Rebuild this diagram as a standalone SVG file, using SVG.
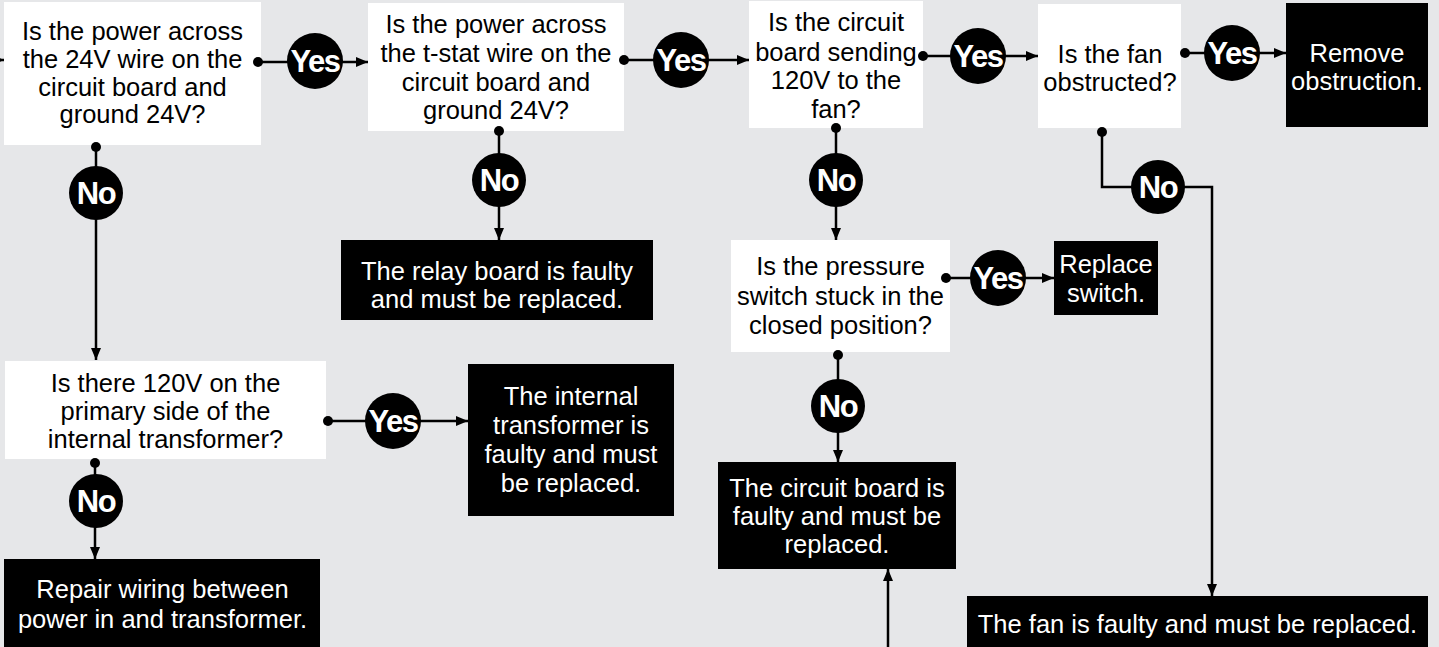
<svg xmlns="http://www.w3.org/2000/svg" width="1439" height="647" viewBox="0 0 1439 647">
<defs>
<marker id="ah" viewBox="0 0 12 10" refX="12" refY="5" markerWidth="12" markerHeight="10" markerUnits="userSpaceOnUse" orient="auto">
<path d="M0,0 L12,5 L0,10 Z" fill="#000"/>
</marker>
<marker id="dot" viewBox="0 0 10 10" refX="5" refY="5" markerWidth="10" markerHeight="10" markerUnits="userSpaceOnUse">
<circle cx="5" cy="5" r="5" fill="#000"/>
</marker>
</defs>
<style>
.q{fill:#fff}
.a{fill:#000}
.t{font-family:"Liberation Sans",Arial,Helvetica,sans-serif;font-size:25.5px;text-anchor:middle}
.qt{fill:#000}
.at{fill:#fff}
.c{fill:#000}
.ct{font-family:"Liberation Sans",Arial,Helvetica,sans-serif;font-size:31px;font-weight:bold;fill:#fff;text-anchor:middle;letter-spacing:-1.5px}
.l{fill:none;stroke:#000;stroke-width:2.5}
</style>
<rect x="0" y="0" width="1439" height="647" fill="#e6e7e9"/>

<g id="q-24v">
<rect class="q" x="4" y="2" width="257" height="143"/>
<text class="t qt"><tspan x="132.5" y="40">Is the power across</tspan><tspan x="132.5" y="68">the 24V wire on the</tspan><tspan x="132.5" y="96">circuit board and</tspan><tspan x="132.5" y="123">ground 24V?</tspan></text>
</g>
<g id="q-tstat">
<rect class="q" x="368" y="3" width="256" height="128"/>
<text class="t qt"><tspan x="496" y="33">Is the power across</tspan><tspan x="496" y="62">the t-stat wire on the</tspan><tspan x="496" y="91">circuit board and</tspan><tspan x="496" y="119">ground 24V?</tspan></text>
</g>
<g id="q-board">
<rect class="q" x="749" y="1" width="174" height="127"/>
<text class="t qt"><tspan x="836" y="31">Is the circuit</tspan><tspan x="836" y="61">board sending</tspan><tspan x="836" y="89">120V to the</tspan><tspan x="836" y="118">fan?</tspan></text>
</g>
<g id="q-fan">
<rect class="q" x="1038" y="4" width="143" height="124"/>
<text class="t qt"><tspan x="1110" y="63">Is the fan</tspan><tspan x="1110" y="91">obstructed?</tspan></text>
</g>
<g id="a-obstruction">
<rect class="a" x="1286" y="3" width="142" height="124"/>
<text class="t at"><tspan x="1357" y="62">Remove</tspan><tspan x="1357" y="90">obstruction.</tspan></text>
</g>
<g id="a-relay">
<rect class="a" x="341" y="240" width="312" height="80"/>
<text class="t at"><tspan x="497" y="280">The relay board is faulty</tspan><tspan x="497" y="308">and must be replaced.</tspan></text>
</g>
<g id="q-pressure">
<rect class="q" x="731" y="240" width="219" height="112"/>
<text class="t qt"><tspan x="840.5" y="275">Is the pressure</tspan><tspan x="840.5" y="305">switch stuck in the</tspan><tspan x="840.5" y="334">closed position?</tspan></text>
</g>
<g id="a-switch">
<rect class="a" x="1054" y="241" width="104" height="74"/>
<text class="t at"><tspan x="1106" y="273">Replace</tspan><tspan x="1106" y="302">switch.</tspan></text>
</g>
<g id="q-transformer">
<rect class="q" x="5" y="361" width="321" height="98"/>
<text class="t qt"><tspan x="165.5" y="392">Is there 120V on the</tspan><tspan x="165.5" y="420">primary side of the</tspan><tspan x="165.5" y="448">internal transformer?</tspan></text>
</g>
<g id="a-transformer">
<rect class="a" x="468" y="364" width="206" height="152"/>
<text class="t at"><tspan x="571" y="405">The internal</tspan><tspan x="571" y="434">transformer is</tspan><tspan x="571" y="463">faulty and must</tspan><tspan x="571" y="492">be replaced.</tspan></text>
</g>
<g id="a-wiring">
<rect class="a" x="4" y="559" width="316" height="100"/>
<text class="t at"><tspan x="162.5" y="598">Repair wiring between</tspan><tspan x="162.5" y="628">power in and transformer.</tspan></text>
</g>
<g id="a-circuit">
<rect class="a" x="718" y="462" width="238" height="107"/>
<text class="t at"><tspan x="837" y="497">The circuit board is</tspan><tspan x="837" y="525">faulty and must be</tspan><tspan x="837" y="553">replaced.</tspan></text>
</g>
<g id="a-fan">
<rect class="a" x="967" y="596" width="461" height="60"/>
<text class="t at"><tspan x="1197.5" y="633">The fan is faulty and must be replaced.</tspan></text>
</g>

<g id="connectors">
<path class="l" d="M-10,60 L4,60" marker-end="url(#ah)"/>
<path class="l" d="M258,62 L368,62" marker-start="url(#dot)" marker-end="url(#ah)"/>
<path class="l" d="M624,60 L749,60" marker-start="url(#dot)" marker-end="url(#ah)"/>
<path class="l" d="M923,56 L1038,56" marker-start="url(#dot)" marker-end="url(#ah)"/>
<path class="l" d="M1185,53 L1286,53" marker-start="url(#dot)" marker-end="url(#ah)"/>
<path class="l" d="M96,147 L96,360" marker-start="url(#dot)" marker-end="url(#ah)"/>
<path class="l" d="M499,131 L499,240" marker-start="url(#dot)" marker-end="url(#ah)"/>
<path class="l" d="M836,128 L836,240" marker-start="url(#dot)" marker-end="url(#ah)"/>
<path class="l" d="M1102,132 L1102,187 L1212,187 L1212,596" marker-start="url(#dot)" marker-end="url(#ah)"/>
<path class="l" d="M328,421 L468,421" marker-start="url(#dot)" marker-end="url(#ah)"/>
<path class="l" d="M95,463 L95,559" marker-start="url(#dot)" marker-end="url(#ah)"/>
<path class="l" d="M946,278 L1054,278" marker-start="url(#dot)" marker-end="url(#ah)"/>
<path class="l" d="M838,355 L838,462" marker-start="url(#dot)" marker-end="url(#ah)"/>
<path class="l" d="M888,660 L888,569" marker-end="url(#ah)"/>
<g id="label-yes-1"><circle class="c" cx="315" cy="61" r="28"/><text class="ct" x="315" y="72">Yes</text></g>
<g id="label-yes-2"><circle class="c" cx="681" cy="60" r="28"/><text class="ct" x="681" y="71">Yes</text></g>
<g id="label-yes-3"><circle class="c" cx="978" cy="56" r="28"/><text class="ct" x="978" y="67">Yes</text></g>
<g id="label-yes-4"><circle class="c" cx="1232" cy="53" r="28"/><text class="ct" x="1232" y="64">Yes</text></g>
<g id="label-yes-5"><circle class="c" cx="393" cy="421" r="28"/><text class="ct" x="393" y="432">Yes</text></g>
<g id="label-yes-6"><circle class="c" cx="998" cy="278" r="28"/><text class="ct" x="998" y="289">Yes</text></g>
<g id="label-no-1"><circle class="c" cx="96" cy="193" r="27"/><text class="ct" x="96" y="204">No</text></g>
<g id="label-no-2"><circle class="c" cx="499" cy="180" r="27"/><text class="ct" x="499" y="191">No</text></g>
<g id="label-no-3"><circle class="c" cx="836" cy="180" r="27"/><text class="ct" x="836" y="191">No</text></g>
<g id="label-no-4"><circle class="c" cx="1158" cy="187" r="27"/><text class="ct" x="1158" y="198">No</text></g>
<g id="label-no-5"><circle class="c" cx="96" cy="501" r="27"/><text class="ct" x="96" y="512">No</text></g>
<g id="label-no-6"><circle class="c" cx="838" cy="406" r="27"/><text class="ct" x="838" y="417">No</text></g>
</g>
</svg>
